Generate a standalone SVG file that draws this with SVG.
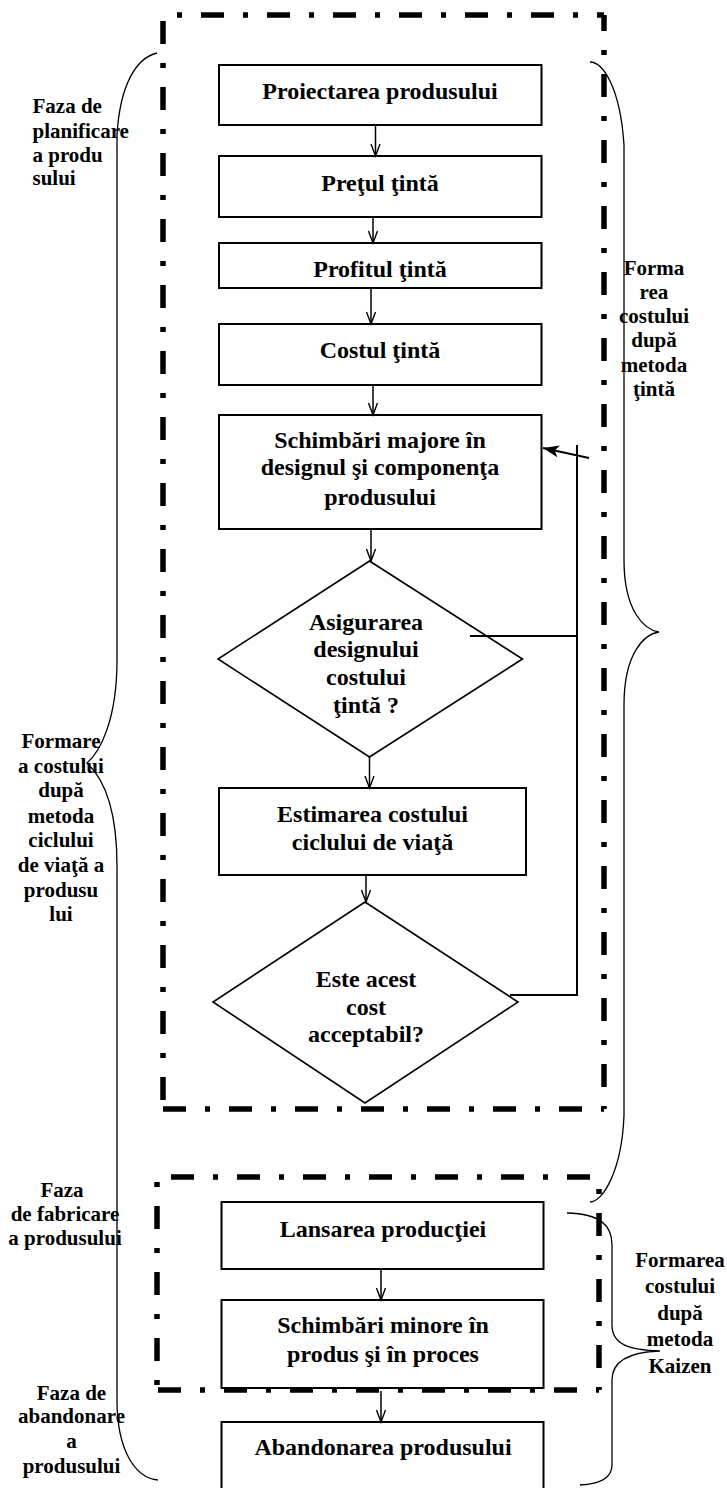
<svg xmlns="http://www.w3.org/2000/svg" width="727" height="1488" viewBox="0 0 727 1488">
<style>
.box{fill:#fff;stroke:#000;stroke-width:2}
.dia{fill:#fff;stroke:#000;stroke-width:1.6}
.t{font-family:"Liberation Serif","Times New Roman",serif;font-weight:bold;font-size:24px;text-anchor:middle;fill:#000}
.s{font-size:21px}
.l{text-anchor:start}
.dash{fill:none;stroke:#000;stroke-width:5.5;stroke-dasharray:5 19 23 19}
.brace{fill:none;stroke:#000;stroke-width:1.3}
.conn{fill:none;stroke:#000;stroke-width:1.5}
.fb{fill:none;stroke:#000;stroke-width:2}
</style>
<defs>
<marker id="ah" viewBox="-14 -6 16 12" refX="0" refY="0" markerWidth="16" markerHeight="12" orient="auto" markerUnits="userSpaceOnUse">
<path d="M-12,-4.5 L0,0 L-12,4.5" fill="none" stroke="#000" stroke-width="1.4"/>
</marker>
<marker id="ahf" viewBox="-17 -7 19 14" refX="0" refY="0" markerWidth="19" markerHeight="14" orient="auto" markerUnits="userSpaceOnUse">
<path d="M-16,-6 L0,0 L-16,6 L-12,0 Z" fill="#000"/>
</marker>
</defs>
<rect width="727" height="1488" fill="#fff"/>

<g id="braces">
<path class="brace" d="M157,53 C136,58 120,85 117,135 L117,660 C117,720 100,752 87,763 C100,775 117,800 117,866 L117,1400 C117,1450 135,1478 158,1480"/>
<path class="brace" d="M590,62 C602,62 620,85 624,145 L624,560 C624,612 645,630 659,632 C645,634 624,652 624,705 L624,1115 C622,1170 603,1202 590,1202"/>
<path class="brace" d="M567,1213 C600,1214 612,1225 612,1245 L612,1325 C612,1345 630,1350 660,1351 C630,1352 612,1360 612,1380 L612,1465 C612,1478 600,1484 580,1485"/>
</g>

<g id="n1"><rect class="box" x="219" y="65" width="322.5" height="60"/><text class="t" x="380" y="99">Proiectarea produsului</text></g>
<g id="n2"><rect class="box" x="219" y="156" width="322.5" height="61"/><text class="t" x="380" y="191">Preţul ţintă</text></g>
<g id="n3"><rect class="box" x="219" y="243" width="322.5" height="45"/><text class="t" x="380" y="277">Profitul ţintă</text></g>
<g id="n4"><rect class="box" x="219" y="324" width="322.5" height="61"/><text class="t" x="380" y="358">Costul ţintă</text></g>
<g id="n5"><rect class="box" x="219" y="415" width="322.5" height="114"/><text class="t" x="380" y="448">Schimbări majore în</text><text class="t" x="380" y="475">designul şi componenţa</text><text class="t" x="380" y="505">produsului</text></g>
<g id="n6"><path class="dia" d="M369.5,561 L522.5,659 L369.5,757 L218,659 Z"/><text class="t" x="366" y="630">Asigurarea</text><text class="t" x="366" y="657">designului</text><text class="t" x="366" y="685">costului</text><text class="t" x="366" y="713">ţintă ?</text></g>
<g id="n7"><rect class="box" x="219" y="788" width="307" height="87"/><text class="t" x="372.5" y="822">Estimarea costului</text><text class="t" x="372.5" y="850">ciclului de viaţă</text></g>
<g id="n8"><path class="dia" d="M365,902 L518,1002 L365,1103 L213,1002 Z"/><text class="t" x="366" y="987">Este acest</text><text class="t" x="366" y="1015">cost</text><text class="t" x="366" y="1042">acceptabil?</text></g>
<g id="n9"><rect class="box" x="221.5" y="1202" width="322" height="67"/><text class="t" x="383" y="1237">Lansarea producţiei</text></g>
<g id="n10"><rect class="box" x="221.5" y="1300" width="322" height="88"/><text class="t" x="383" y="1333">Schimbări minore în</text><text class="t" x="383" y="1362">produs şi în proces</text></g>
<g id="n11"><rect class="box" x="221.5" y="1422" width="322" height="80"/><text class="t" x="383" y="1455">Abandonarea produsului</text></g>

<g id="frames">
<line class="dash" x1="163" y1="15" x2="604" y2="15" stroke-dashoffset="52"/>
<line class="dash" x1="604" y1="15" x2="604" y2="1109" stroke-dashoffset="31"/>
<line class="dash" x1="163" y1="1109" x2="604" y2="1109" stroke-dashoffset="24"/>
<line class="dash" x1="163" y1="15" x2="163" y2="1109" stroke-dashoffset="18"/>
<line class="dash" x1="157" y1="1177" x2="599" y2="1177" stroke-dashoffset="10"/>
<line class="dash" x1="599" y1="1177" x2="599" y2="1390" stroke-dashoffset="54"/>
<line class="dash" x1="157" y1="1390" x2="599" y2="1390" stroke-dashoffset="23"/>
<line class="dash" x1="157" y1="1177" x2="157" y2="1390" stroke-dashoffset="61"/>
</g>

<g id="connectors">
<line class="conn" x1="375.5" y1="125" x2="375.5" y2="156" marker-end="url(#ah)"/>
<line class="conn" x1="373" y1="217" x2="373" y2="243" marker-end="url(#ah)"/>
<line class="conn" x1="371" y1="288" x2="371" y2="324" marker-end="url(#ah)"/>
<line class="conn" x1="373" y1="385" x2="373" y2="415" marker-end="url(#ah)"/>
<line class="conn" x1="371" y1="529" x2="371" y2="561" marker-end="url(#ah)"/>
<line class="conn" x1="369.5" y1="757" x2="369.5" y2="788" marker-end="url(#ah)"/>
<line class="conn" x1="366" y1="875" x2="366" y2="902" marker-end="url(#ah)"/>
<line class="conn" x1="381" y1="1269" x2="381" y2="1300" marker-end="url(#ah)"/>
<line class="conn" x1="381" y1="1391" x2="381" y2="1422" marker-end="url(#ah)"/>
<polyline class="fb" points="470,636 577,636"/>
<polyline class="fb" points="510,995 577,995 577,445"/>
<line class="fb" x1="589" y1="458" x2="543" y2="448" marker-end="url(#ahf)"/>
</g>

<g id="labels">
<text class="t s l" x="32.5" y="113">Faza de</text>
<text class="t s l" x="32.5" y="138">planificare</text>
<text class="t s l" x="32.5" y="162">a produ</text>
<text class="t s l" x="32.5" y="185">sului</text>
<text class="t s" x="654" y="275">Forma</text>
<text class="t s" x="654" y="299">rea</text>
<text class="t s" x="654" y="323">costului</text>
<text class="t s" x="654" y="347">după</text>
<text class="t s" x="654" y="372">metoda</text>
<text class="t s" x="654" y="396">ţintă</text>
<text class="t s" x="61" y="748">Formare</text>
<text class="t s" x="61" y="773">a costului</text>
<text class="t s" x="61" y="797">după</text>
<text class="t s" x="61" y="823">metoda</text>
<text class="t s" x="61" y="847">ciclului</text>
<text class="t s" x="61" y="872">de viaţă a</text>
<text class="t s" x="61" y="897">produsu</text>
<text class="t s" x="61" y="921">lui</text>
<text class="t s" x="62" y="1197">Faza</text>
<text class="t s" x="65" y="1221">de fabricare</text>
<text class="t s" x="65" y="1245">a produsului</text>
<text class="t s" x="71.5" y="1400">Faza de</text>
<text class="t s" x="71.5" y="1423">abandonare</text>
<text class="t s" x="71.5" y="1448">a</text>
<text class="t s" x="71.5" y="1473">produsului</text>
<text class="t s" x="680" y="1267">Formarea</text>
<text class="t s" x="680" y="1293">costului</text>
<text class="t s" x="680" y="1320">după</text>
<text class="t s" x="680" y="1346">metoda</text>
<text class="t s" x="680" y="1373">Kaizen</text>
</g>
</svg>
